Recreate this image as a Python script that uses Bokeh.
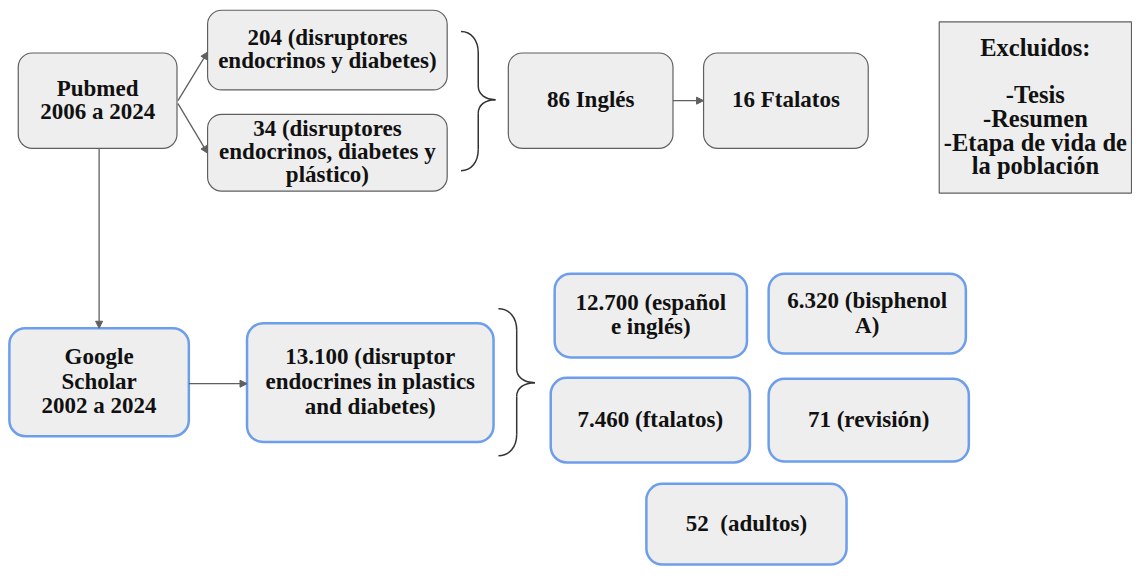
from bokeh.plotting import figure
from bokeh.models import Range1d, Arrow, NormalHead, ColumnDataSource
from bokeh.core.properties import value
from bokeh.embed import file_html
from bokeh.resources import INLINE

# ---- content (box texts) ----
labels = [
    "Pubmed\n2006 a 2024",
    "204 (disruptores\nendocrinos y diabetes)",
    "34 (disruptores\nendocrinos, diabetes y\nplástico)",
    "86 Inglés",
    "16 Ftalatos",
    "Excluidos:\n\n-Tesis\n-Resumen\n-Etapa de vida de\nla población",
    "Google\nScholar\n2002 a 2024",
    "13.100 (disruptor\nendocrines in plastics\nand diabetes)",
    "12.700 (español\ne inglés)",
    "6.320 (bisphenol\nA)",
    "7.460 (ftalatos)",
    "71 (revisión)",
    "52  (adultos)",
]
kinds = ["gray", "gray", "gray", "gray", "gray", "square",
         "blue", "blue", "blue", "blue", "blue", "blue", "blue"]

# ---- layout (pixel frame of the diagram, y downward) ----
box_left   = [18, 210, 210, 515, 713, 952, 9, 250, 562, 779, 558, 779, 655]
box_top    = [54, 10, 117, 54, 54, 22, 337, 332, 281, 281, 388, 389, 497]
box_right  = [179, 453, 453, 682, 880, 1147, 191, 500, 757, 979, 760, 982, 858]
box_bottom = [152, 92, 196, 152, 152, 198, 448, 454, 367, 363, 475, 474, 580]

arrows = [  # (x0, y0, x1, y1)
    (180, 103, 210, 53),
    (180, 106, 210, 157),
    (682, 103, 713, 103),
    (100, 152, 100, 337),
    (191, 394, 250, 394),
]
braces = [  # (x_left, x_tip, y_top, y_bottom, y_tip)
    (467, 502, 32, 175, 102),
    (505, 542, 317, 468, 393),
]

FILL = "#eeeeee"
GRAY = "#5f5f5f"
BLUE = "#6d9eeb"
FONT = "'Liberation Serif', 'Times New Roman', Tinos, serif"

p = figure(width=1132, height=566, output_backend="svg", toolbar_location=None,
           x_range=Range1d(0, 1148), y_range=Range1d(582, 0),
           min_border=0, outline_line_color=None, background_fill_color="white")
p.xaxis.visible = False
p.yaxis.visible = False
p.xgrid.visible = False
p.ygrid.visible = False

def sel(k):
    idx = [i for i, kk in enumerate(kinds) if kk == k]
    return dict(left=[box_left[i] for i in idx], right=[box_right[i] for i in idx],
                top=[box_top[i] for i in idx], bottom=[box_bottom[i] for i in idx],
                x=[(box_left[i] + box_right[i]) / 2 for i in idx],
                y=[(box_top[i] + box_bottom[i]) / 2 - 1 for i in idx],
                text=[labels[i].replace("  ", "\u00a0 ") for i in idx])

src_gray, src_blue, src_sq = (ColumnDataSource(sel(k)) for k in ("gray", "blue", "square"))

p.quad(source=src_gray, left="left", right="right", top="top", bottom="bottom",
       fill_color=FILL, line_color=GRAY, line_width=1.2, border_radius=14)
p.quad(source=src_blue, left="left", right="right", top="top", bottom="bottom",
       fill_color=FILL, line_color=BLUE, line_width=2.5, border_radius=16)
p.quad(source=src_sq, left="left", right="right", top="top", bottom="bottom",
       fill_color=FILL, line_color=GRAY, line_width=1.2)

for src, size, lh in ((src_gray, "23px", 0.92), (src_blue, "23px", 0.99), (src_sq, "24.5px", 0.88)):
    p.text(source=src, x="x", y="y", text="text", text_font=value(FONT), text_font_style="bold",
           text_font_size=size, text_align="center", text_baseline="middle",
           text_line_height=lh, text_color="#111111")

for (x0, y0, x1, y1) in arrows:
    p.add_layout(Arrow(x_start=x0, y_start=y0, x_end=x1, y_end=y1,
                       line_color=GRAY, line_width=1.3,
                       end=NormalHead(size=7, fill_color=GRAY, line_color=GRAY)))

bx0, by0, bx1, by1, bcx0, bcy0, bcx1, bcy1 = [], [], [], [], [], [], [], []
def seg(a, b, c0, c1):
    bx0.append(a[0]); by0.append(a[1]); bx1.append(b[0]); by1.append(b[1])
    bcx0.append(c0[0]); bcy0.append(c0[1]); bcx1.append(c1[0]); bcy1.append(c1[1])

for (xl, xr, yt, yb, ym) in braces:
    xm = (xl + xr) / 2
    r, tr = 22, 14
    seg((xl, yt), (xm, yt + r), (xl + 0.6 * (xm - xl), yt), (xm, yt + 0.4 * r))
    seg((xm, yt + r), (xm, ym - tr), (xm, yt + r), (xm, ym - tr))
    seg((xm, ym - tr), (xr, ym), (xm, ym - 0.4 * tr), (xm + 0.4 * (xr - xm), ym))
    seg((xr, ym), (xm, ym + tr), (xm + 0.4 * (xr - xm), ym), (xm, ym + 0.4 * tr))
    seg((xm, ym + tr), (xm, yb - r), (xm, ym + tr), (xm, yb - r))
    seg((xm, yb - r), (xl, yb), (xm, yb - 0.4 * r), (xl + 0.6 * (xm - xl), yb))

p.bezier(x0=bx0, y0=by0, x1=bx1, y1=by1, cx0=bcx0, cy0=bcy0, cx1=bcx1, cy1=bcy1,
         line_color="#333333", line_width=1.5)

open("out.html", "w").write(file_html(p, INLINE))
